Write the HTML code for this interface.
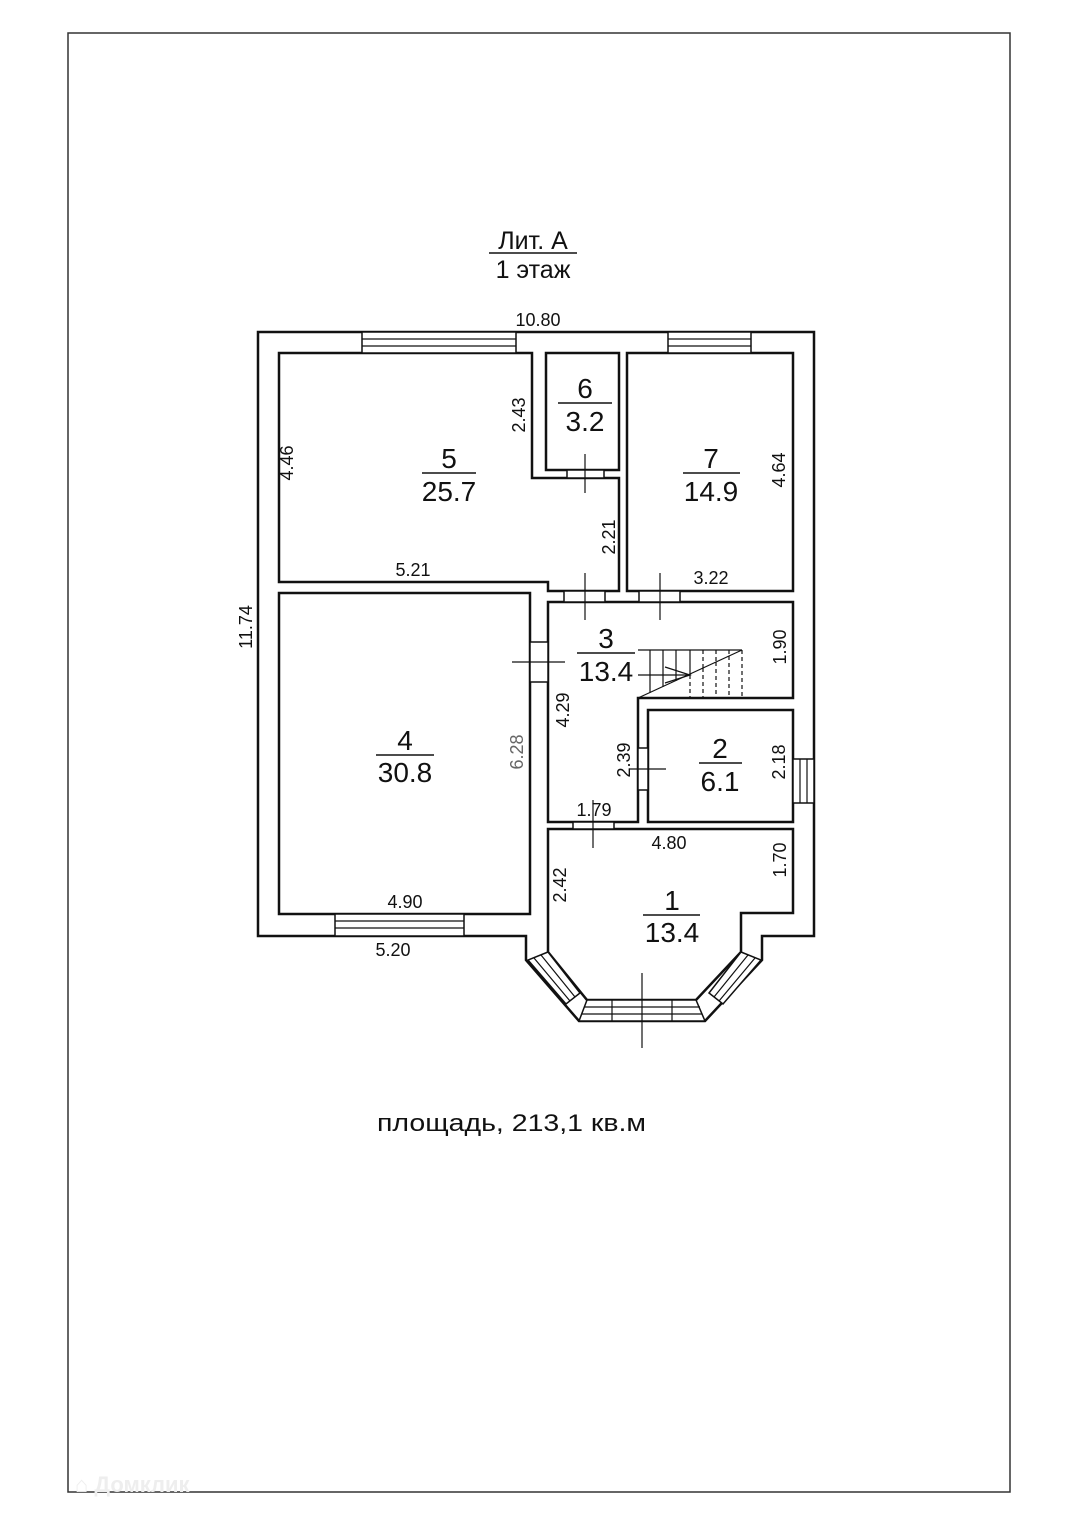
<!DOCTYPE html>
<html><head><meta charset="utf-8"><style>
html,body{margin:0;padding:0;background:#fff;}
svg{display:block;}
text{font-family:"Liberation Sans",Arial,sans-serif;fill:#111;}
</style></head><body>
<svg width="1080" height="1527" viewBox="0 0 1080 1527" xmlns="http://www.w3.org/2000/svg">
<rect x="68" y="33" width="942" height="1459" fill="none" stroke="#333" stroke-width="1.5"/>
<text x="75" y="1492" font-size="22" font-weight="bold" style="fill:#eee">⌂ Домклик</text>

<text x="533" y="249" font-size="25" text-anchor="middle">Лит. А</text>
<line x1="489" y1="253" x2="577" y2="253" stroke="#111" stroke-width="1.5"/>
<text x="533" y="278" font-size="25" text-anchor="middle">1 этаж</text>
<text x="538" y="326" font-size="18" text-anchor="middle">10.80</text>

<g fill="none" stroke="#111" stroke-width="2.5">
<path d="M258 332 H814 V936 H762 V960 L705 1021 H579 L526 960 V936 H258 Z"/>
<path d="M279 353 H532 V478 H619 V591 H548 V582 H279 Z"/>
<rect x="546" y="353" width="73" height="117"/>
<rect x="627" y="353" width="166" height="238"/>
<rect x="279" y="593" width="251" height="321"/>
<path d="M548 602 H793 V698 H638 V822 H548 Z"/>
<rect x="648" y="710" width="145" height="112"/>
<path d="M548 829 H793 V913 H741 V952 L696 1000 H587 L548 952 Z"/>
</g>

<g fill="#fff" stroke="#111" stroke-width="1.5">
<rect x="362" y="332" width="154" height="21"/>
<rect x="668" y="332" width="83" height="21"/>
<rect x="335" y="914" width="129" height="22"/>
<rect x="793" y="759" width="21" height="44"/>
<rect x="567" y="470" width="37" height="8"/>
<rect x="564" y="591" width="41" height="11"/>
<rect x="639" y="591" width="41" height="11"/>
<rect x="530" y="642" width="18" height="40"/>
<rect x="638" y="748" width="10" height="42"/>
<rect x="573" y="822" width="41" height="7"/>
</g>
<g stroke="#111" stroke-width="1.2" fill="none">
<line x1="362" y1="339" x2="516" y2="339"/><line x1="362" y1="346" x2="516" y2="346"/>
<line x1="668" y1="339" x2="751" y2="339"/><line x1="668" y1="346" x2="751" y2="346"/>
<line x1="335" y1="921" x2="464" y2="921"/><line x1="335" y1="928" x2="464" y2="928"/>
<line x1="800" y1="759" x2="800" y2="803"/><line x1="807" y1="759" x2="807" y2="803"/>
<polygon points="587,1000 696,1000 705,1021 579,1021" fill="#fff" stroke-width="1.5"/>
<line x1="584" y1="1007" x2="700" y2="1007"/><line x1="582" y1="1014" x2="702" y2="1014"/>
<line x1="612" y1="1000" x2="612" y2="1021"/><line x1="672" y1="1000" x2="672" y2="1021"/>
<polygon points="548,952 528,960 566,1004 580,993" fill="#fff" stroke-width="1.5"/>
<line x1="541" y1="955" x2="575" y2="997"/><line x1="534" y1="958" x2="570" y2="1001"/>
<polygon points="741,952 761,960 723,1004 709,993" fill="#fff" stroke-width="1.5"/>
<line x1="748" y1="955" x2="714" y2="997"/><line x1="755" y1="958" x2="719" y2="1001"/>
<line x1="585" y1="454" x2="585" y2="493"/>
<line x1="585" y1="573" x2="585" y2="620"/>
<line x1="660" y1="573" x2="660" y2="620"/>
<line x1="512" y1="662" x2="565" y2="662"/>
<line x1="629" y1="769" x2="666" y2="769"/>
<line x1="593" y1="800" x2="593" y2="848"/>
<line x1="642" y1="973" x2="642" y2="1048"/>
<polyline points="638,650 742,650"/>
<line x1="638" y1="698" x2="742" y2="650"/>
<line x1="650" y1="650" x2="650" y2="693"/>
<line x1="663" y1="650" x2="663" y2="687"/>
<line x1="676" y1="650" x2="676" y2="681"/>
<line x1="690" y1="650" x2="690" y2="675"/>
<g stroke-dasharray="4,3">
<line x1="690" y1="675" x2="690" y2="698"/>
<line x1="703" y1="668" x2="703" y2="698"/>
<line x1="716" y1="662" x2="716" y2="698"/>
<line x1="729" y1="656" x2="729" y2="698"/>
<line x1="742" y1="650" x2="742" y2="698"/>
<line x1="703" y1="650" x2="703" y2="668"/>
<line x1="716" y1="650" x2="716" y2="662"/>
<line x1="729" y1="650" x2="729" y2="656"/>
</g>
<line x1="638" y1="675" x2="690" y2="675"/>
<polyline points="665,667 690,675 665,683"/>
</g>

<g font-size="28" text-anchor="middle">
<text x="449" y="468">5</text><line x1="422" y1="473" x2="476" y2="473" stroke="#111" stroke-width="1.5"/><text x="449" y="501">25.7</text>
<text x="585" y="398">6</text><line x1="558" y1="403" x2="612" y2="403" stroke="#111" stroke-width="1.5"/><text x="585" y="431">3.2</text>
<text x="711" y="468">7</text><line x1="683" y1="473" x2="740" y2="473" stroke="#111" stroke-width="1.5"/><text x="711" y="501">14.9</text>
<text x="606" y="648">3</text><line x1="577" y1="653" x2="635" y2="653" stroke="#111" stroke-width="1.5"/><text x="606" y="681">13.4</text>
<text x="405" y="750">4</text><line x1="376" y1="755" x2="434" y2="755" stroke="#111" stroke-width="1.5"/><text x="405" y="782">30.8</text>
<text x="720" y="758">2</text><line x1="699" y1="763" x2="742" y2="763" stroke="#111" stroke-width="1.5"/><text x="720" y="791">6.1</text>
<text x="672" y="910">1</text><line x1="643" y1="915" x2="700" y2="915" stroke="#111" stroke-width="1.5"/><text x="672" y="942">13.4</text>
</g>

<g font-size="18" text-anchor="middle">
<text x="413" y="576">5.21</text>
<text x="711" y="584">3.22</text>
<text x="405" y="908">4.90</text>
<text x="393" y="956">5.20</text>
<text x="594" y="816">1.79</text>
<text x="669" y="849">4.80</text>
<text transform="translate(293,463) rotate(-90)">4.46</text>
<text transform="translate(525,415) rotate(-90)">2.43</text>
<text transform="translate(615,537) rotate(-90)">2.21</text>
<text transform="translate(785,470) rotate(-90)">4.64</text>
<text transform="translate(252,627) rotate(-90)">11.74</text>
<text transform="translate(786,647) rotate(-90)">1.90</text>
<text transform="translate(569,710) rotate(-90)">4.29</text>
<text transform="translate(523,752) rotate(-90)" style="fill:#666">6.28</text>
<text transform="translate(630,760) rotate(-90)">2.39</text>
<text transform="translate(785,762) rotate(-90)">2.18</text>
<text transform="translate(566,885) rotate(-90)">2.42</text>
<text transform="translate(786,860) rotate(-90)">1.70</text>
</g>

<text x="377" y="1131" font-size="24" textLength="269" lengthAdjust="spacingAndGlyphs">площадь, 213,1 кв.м</text>
</svg>
</body></html>
